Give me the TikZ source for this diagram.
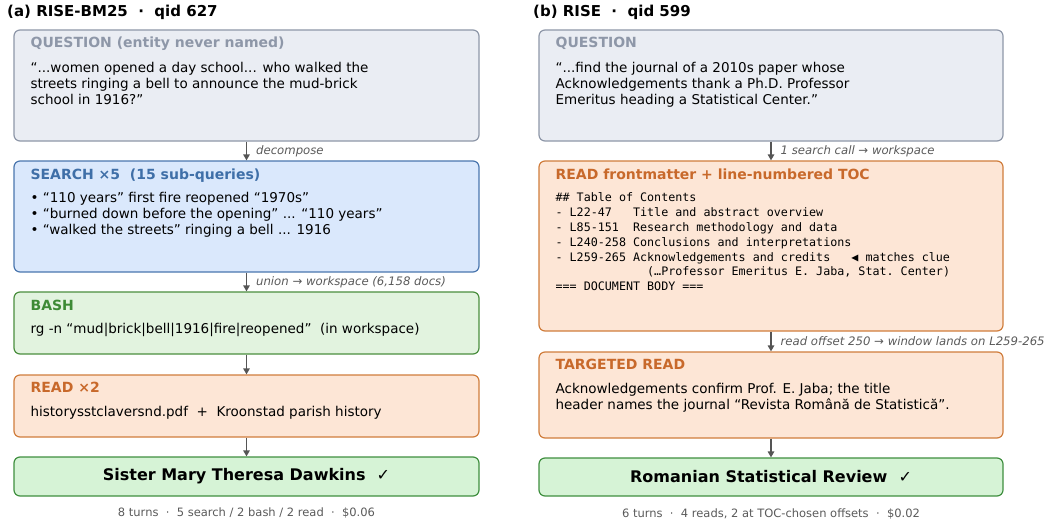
\documentclass[tikz,border=0pt]{standalone}
\usepackage{fontspec}
\setmainfont{DejaVu Sans}
\setmonofont{DejaVu Sans Mono}
\usepackage{tikz}
\usetikzlibrary{positioning,arrows.meta}

\definecolor{qfill}{HTML}{EAEDF3}
\definecolor{qline}{HTML}{8E97A8}
\definecolor{sfill}{HTML}{DAE8FC}
\definecolor{sline}{HTML}{4A76AE}
\definecolor{shead}{HTML}{3F6FA8}
\definecolor{bfill}{HTML}{E2F3DF}
\definecolor{bline}{HTML}{4A8E3E}
\definecolor{bhead}{HTML}{3D8A35}
\definecolor{rfill}{HTML}{FDE6D6}
\definecolor{rline}{HTML}{D07D3C}
\definecolor{rhead}{HTML}{C8692B}
\definecolor{afill}{HTML}{D6F3D6}
\definecolor{aline}{HTML}{3F8F3F}
\definecolor{arrowgray}{HTML}{555555}
\definecolor{notegray}{HTML}{5A5A5A}

\begin{document}
\begin{tikzpicture}[x=1pt, y=-1pt,
    box/.style={rectangle, rounded corners=6pt, line width=1.2pt, inner sep=0pt},
    question/.style={box, draw=qline, fill=qfill},
    search/.style={box, draw=sline, fill=sfill},
    bash/.style={box, draw=bline, fill=bfill},
    read/.style={box, draw=rline, fill=rfill},
    answer/.style={box, draw=aline, fill=afill},
    head/.style={anchor=base west, inner sep=0pt, font=\fontsize{14}{16}\selectfont\bfseries},
    body/.style={anchor=base west, inner sep=0pt, align=left, font=\fontsize{13.5}{16}\selectfont},
    code/.style={anchor=base west, inner sep=0pt, align=left, font=\fontsize{11.7}{14.9}\selectfont\ttfamily},
    final/.style={inner sep=0pt, font=\fontsize{16}{18}\selectfont\bfseries},
    title/.style={anchor=west, inner sep=0pt, font=\fontsize{15}{18}\selectfont\bfseries},
    note/.style={anchor=west, inner sep=0pt, text=notegray, font=\fontsize{11.7}{13}\selectfont\itshape},
    foot/.style={inner sep=0pt, text=notegray, font=\fontsize{11.5}{13}\selectfont},
    flow/.style={draw=arrowgray, line width=1.3pt, -{Triangle[length=6pt, width=6.5pt]}}]
  \useasboundingbox (0,0) rectangle (1048,524);

  % (a) RISE-BM25
  \node[title] (titleA) at (7,12) {(a) RISE-BM25 ~·~ qid 627};

  \node[question, minimum width=465pt, minimum height=111pt] (qA) at (246.5,85.5) {};
  \node[head, text=qline] (qAHead) at ([shift={(17,18)}]qA.north west) {QUESTION (entity never named)};
  % multi-line text: base sits on the last line
  \node[body] (qAText) at ([shift={(17,75)}]qA.north west)
    {“...women opened a day school... who walked the\\streets ringing a bell to announce the mud-brick\\school in 1916?”};

  \node[search, minimum width=465pt, minimum height=111pt] (sA) at (246.5,216.5) {};
  \node[head, text=shead] (sAHead) at ([shift={(17,19)}]sA.north west) {SEARCH ×5 ~(15 sub-queries)};
  \node[body] (sAText) at ([shift={(17,74)}]sA.north west)
    {• “110 years” first fire reopened “1970s”\\• “burned down before the opening” ... “110 years”\\• “walked the streets” ringing a bell ... 1916};

  \node[bash, minimum width=465pt, minimum height=62pt] (bA) at (246.5,323) {};
  \node[head, text=bhead] (bAHead) at ([shift={(17,19)}]bA.north west) {BASH};
  \node[body] (bAText) at ([shift={(17,42)}]bA.north west)
    {rg -n “mud|brick|bell|1916|fire|reopened” ~(in workspace)};

  \node[read, minimum width=465pt, minimum height=62pt] (rA) at (246.5,406) {};
  \node[head, text=rhead] (rAHead) at ([shift={(17,18)}]rA.north west) {READ ×2};
  \node[body] (rAText) at ([shift={(17,42)}]rA.north west)
    {historysstclaversnd.pdf ~+~ Kroonstad parish history};

  \node[answer, minimum width=465pt, minimum height=39pt] (aA) at (246.5,476.5) {};
  \node[final] (aAText) at (aA.center) {Sister Mary Theresa Dawkins ~✓};
  \node[foot] (footA) at (246.5,513) {8 turns ~·~ 5 search / 2 bash / 2 read ~·~ \$0.06};

  \draw[flow] (qA) -- (sA) node[midway, note, xshift=9pt] {decompose};
  \draw[flow] (sA) -- (bA) node[midway, note, xshift=9pt] {union → workspace (6,158 docs)};
  \draw[flow] (bA) -- (rA);
  \draw[flow] (rA) -- (aA);

  % (b) RISE
  \node[title] (titleB) at (533,12) {(b) RISE ~·~ qid 599};

  \node[question, minimum width=464pt, minimum height=111pt] (qB) at (771,85.5) {};
  \node[head, text=qline] (qBHead) at ([shift={(17,18)}]qB.north west) {QUESTION};
  \node[body] (qBText) at ([shift={(17,75)}]qB.north west)
    {“...find the journal of a 2010s paper whose\\Acknowledgements thank a Ph.D. Professor\\Emeritus heading a Statistical Center.”};

  \node[read, minimum width=464pt, minimum height=170pt] (tocB) at (771,246) {};
  \node[head, text=rhead] (tocBHead) at ([shift={(17,19)}]tocB.north west) {READ frontmatter + line-numbered TOC};
  \node[code] (tocBText) at ([shift={(17,130.4)}]tocB.north west)
    {\#\# Table of Contents\\
     - L22-47~~~Title and abstract overview\\
     - L85-151~~Research methodology and data\\
     - L240-258 Conclusions and interpretations\\
     - L259-265 Acknowledgements and credits~~~◀ matches clue\\
     ~~~~~~~~~~~~~(…Professor Emeritus E. Jaba, Stat. Center)\\
     === DOCUMENT BODY ===};

  \node[read, minimum width=464pt, minimum height=86pt] (trB) at (771,395) {};
  \node[head, text=rhead] (trBHead) at ([shift={(17,18)}]trB.north west) {TARGETED READ};
  \node[body] (trBText) at ([shift={(17,58)}]trB.north west)
    {Acknowledgements confirm Prof. E. Jaba; the title\\header names the journal “Revista Română de Statistică”.};

  \node[answer, minimum width=464pt, minimum height=38pt] (aB) at (771,477) {};
  \node[final] (aBText) at (aB.center) {Romanian Statistical Review ~✓};
  \node[foot] (footB) at (771,514) {6 turns ~·~ 4 reads, 2 at TOC-chosen offsets ~·~ \$0.02};

  \draw[flow] (qB) -- (tocB) node[midway, note, xshift=9pt] {1 search call → workspace};
  \draw[flow] (tocB) -- (trB) node[midway, note, xshift=9pt] {read offset 250 → window lands on L259-265};
  \draw[flow] (trB) -- (aB);
\end{tikzpicture}
\end{document}
